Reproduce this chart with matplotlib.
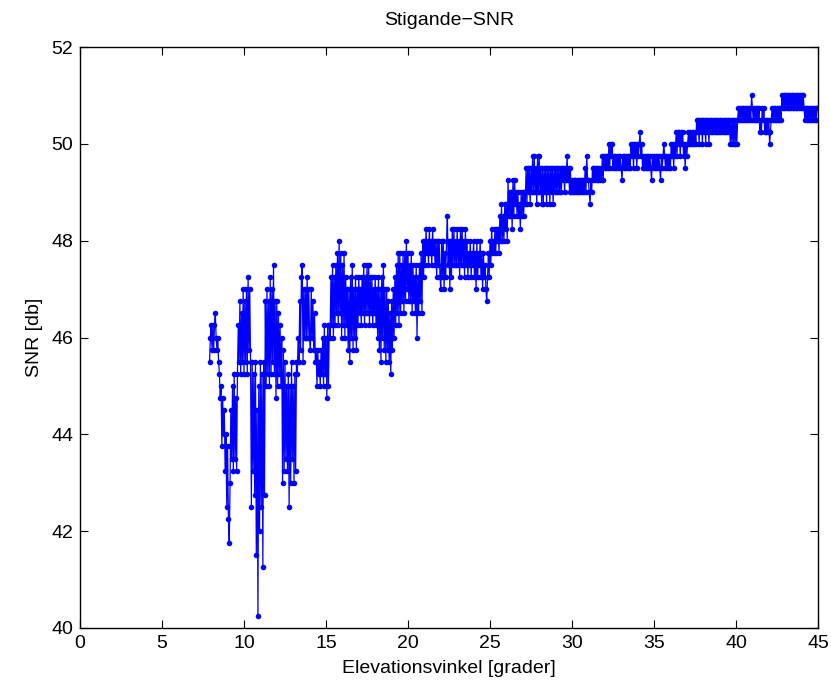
import matplotlib
matplotlib.use("Agg")
import matplotlib.pyplot as plt

# elevation angle [deg] of each sample
elevation = [
    7.9, 7.95,
    8.0, 8.05, 8.1, 8.15, 8.2, 8.25, 8.3, 8.35, 8.4, 8.45, 8.5, 8.55, 8.6, 8.65, 8.7, 8.75, 8.8, 8.85, 8.9, 8.95,
    9.0, 9.05, 9.1, 9.15, 9.2, 9.25, 9.3, 9.35, 9.4, 9.45, 9.5, 9.55, 9.6, 9.65, 9.7, 9.75, 9.8, 9.85, 9.9, 9.95,
    10.0, 10.05, 10.1, 10.15, 10.2, 10.25, 10.3, 10.35, 10.4, 10.45, 10.5, 10.55, 10.6, 10.65, 10.7, 10.75, 10.8, 10.85, 10.9, 10.95,
    11.0, 11.05, 11.1, 11.15, 11.2, 11.25, 11.3, 11.35, 11.4, 11.45, 11.5, 11.55, 11.6, 11.65, 11.7, 11.75, 11.8, 11.85, 11.9, 11.95,
    12.0, 12.05, 12.1, 12.15, 12.2, 12.25, 12.3, 12.35, 12.4, 12.45, 12.5, 12.55, 12.6, 12.65, 12.7, 12.75, 12.8, 12.85, 12.9, 12.95,
    13.0, 13.05, 13.1, 13.15, 13.2, 13.25, 13.3, 13.35, 13.4, 13.45, 13.5, 13.55, 13.6, 13.65, 13.7, 13.75, 13.8, 13.85, 13.9, 13.95,
    14.0, 14.05, 14.1, 14.15, 14.2, 14.25, 14.3, 14.35, 14.4, 14.45, 14.5, 14.55, 14.6, 14.65, 14.7, 14.75, 14.8, 14.85, 14.9, 14.95,
    15.0, 15.05, 15.1, 15.15, 15.2, 15.25, 15.3, 15.35, 15.4, 15.45, 15.5, 15.55, 15.6, 15.65, 15.7, 15.75, 15.8, 15.85, 15.9, 15.95,
    16.0, 16.05, 16.1, 16.15, 16.2, 16.25, 16.3, 16.35, 16.4, 16.45, 16.5, 16.55, 16.6, 16.65, 16.7, 16.75, 16.8, 16.85, 16.9, 16.95,
    17.0, 17.05, 17.1, 17.15, 17.2, 17.25, 17.3, 17.35, 17.4, 17.45, 17.5, 17.55, 17.6, 17.65, 17.7, 17.75, 17.8, 17.85, 17.9, 17.95,
    18.0, 18.05, 18.1, 18.15, 18.2, 18.25, 18.3, 18.35, 18.4, 18.45, 18.5, 18.55, 18.6, 18.65, 18.7, 18.75, 18.8, 18.85, 18.9, 18.95,
    19.0, 19.05, 19.1, 19.15, 19.2, 19.25, 19.3, 19.35, 19.4, 19.45, 19.5, 19.55, 19.6, 19.65, 19.7, 19.75, 19.8, 19.85, 19.9, 19.95,
    20.0, 20.05, 20.1, 20.15, 20.2, 20.25, 20.3, 20.35, 20.4, 20.45, 20.5, 20.55, 20.6, 20.65, 20.7, 20.75, 20.8, 20.85, 20.9, 20.95,
    21.0, 21.05, 21.1, 21.15, 21.2, 21.25, 21.3, 21.35, 21.4, 21.45, 21.5, 21.55, 21.6, 21.65, 21.7, 21.75, 21.8, 21.85, 21.9, 21.95,
    22.0, 22.05, 22.1, 22.15, 22.2, 22.25, 22.3, 22.35, 22.4, 22.45, 22.5, 22.55, 22.6, 22.65, 22.7, 22.75, 22.8, 22.85, 22.9, 22.95,
    23.0, 23.05, 23.1, 23.15, 23.2, 23.25, 23.3, 23.35, 23.4, 23.45, 23.5, 23.55, 23.6, 23.65, 23.7, 23.75, 23.8, 23.85, 23.9, 23.95,
    24.0, 24.05, 24.1, 24.15, 24.2, 24.25, 24.3, 24.35, 24.4, 24.45, 24.5, 24.55, 24.6, 24.65, 24.7, 24.75, 24.8, 24.85, 24.9, 24.95,
    25.0, 25.05, 25.1, 25.15, 25.2, 25.25, 25.3, 25.35, 25.4, 25.45, 25.5, 25.55, 25.6, 25.65, 25.7, 25.75, 25.8, 25.85, 25.9, 25.95,
    26.0, 26.05, 26.1, 26.15, 26.2, 26.25, 26.3, 26.35, 26.4, 26.45, 26.5, 26.55, 26.6, 26.65, 26.7, 26.75, 26.8, 26.85, 26.9, 26.95,
    27.0, 27.05, 27.1, 27.15, 27.2, 27.25, 27.3, 27.35, 27.4, 27.45, 27.5, 27.55, 27.6, 27.65, 27.7, 27.75, 27.8, 27.85, 27.9, 27.95,
    28.0, 28.05, 28.1, 28.15, 28.2, 28.25, 28.3, 28.35, 28.4, 28.45, 28.5, 28.55, 28.6, 28.65, 28.7, 28.75, 28.8, 28.85, 28.9, 28.95,
    29.0, 29.05, 29.1, 29.15, 29.2, 29.25, 29.3, 29.35, 29.4, 29.45, 29.5, 29.55, 29.6, 29.65, 29.7, 29.75, 29.8, 29.85, 29.9, 29.95,
    30.0, 30.05, 30.1, 30.15, 30.2, 30.25, 30.3, 30.35, 30.4, 30.45, 30.5, 30.55, 30.6, 30.65, 30.7, 30.75, 30.8, 30.85, 30.9, 30.95,
    31.0, 31.05, 31.1, 31.15, 31.2, 31.25, 31.3, 31.35, 31.4, 31.45, 31.5, 31.55, 31.6, 31.65, 31.7, 31.75, 31.8, 31.85, 31.9, 31.95,
    32.0, 32.05, 32.1, 32.15, 32.2, 32.25, 32.3, 32.35, 32.4, 32.45, 32.5, 32.55, 32.6, 32.65, 32.7, 32.75, 32.8, 32.85, 32.9, 32.95,
    33.0, 33.05, 33.1, 33.15, 33.2, 33.25, 33.3, 33.35, 33.4, 33.45, 33.5, 33.55, 33.6, 33.65, 33.7, 33.75, 33.8, 33.85, 33.9, 33.95,
    34.0, 34.05, 34.1, 34.15, 34.2, 34.25, 34.3, 34.35, 34.4, 34.45, 34.5, 34.55, 34.6, 34.65, 34.7, 34.75, 34.8, 34.85, 34.9, 34.95,
    35.0, 35.05, 35.1, 35.15, 35.2, 35.25, 35.3, 35.35, 35.4, 35.45, 35.5, 35.55, 35.6, 35.65, 35.7, 35.75, 35.8, 35.85, 35.9, 35.95,
    36.0, 36.05, 36.1, 36.15, 36.2, 36.25, 36.3, 36.35, 36.4, 36.45, 36.5, 36.55, 36.6, 36.65, 36.7, 36.75, 36.8, 36.85, 36.9, 36.95,
    37.0, 37.05, 37.1, 37.15, 37.2, 37.25, 37.3, 37.35, 37.4, 37.45, 37.5, 37.55, 37.6, 37.65, 37.7, 37.75, 37.8, 37.85, 37.9, 37.95,
    38.0, 38.05, 38.1, 38.15, 38.2, 38.25, 38.3, 38.35, 38.4, 38.45, 38.5, 38.55, 38.6, 38.65, 38.7, 38.75, 38.8, 38.85, 38.9, 38.95,
    39.0, 39.05, 39.1, 39.15, 39.2, 39.25, 39.3, 39.35, 39.4, 39.45, 39.5, 39.55, 39.6, 39.65, 39.7, 39.75, 39.8, 39.85, 39.9, 39.95,
    40.0, 40.05, 40.1, 40.15, 40.2, 40.25, 40.3, 40.35, 40.4, 40.45, 40.5, 40.55, 40.6, 40.65, 40.7, 40.75, 40.8, 40.85, 40.9, 40.95,
    41.0, 41.05, 41.1, 41.15, 41.2, 41.25, 41.3, 41.35, 41.4, 41.45, 41.5, 41.55, 41.6, 41.65, 41.7, 41.75, 41.8, 41.85, 41.9, 41.95,
    42.0, 42.05, 42.1, 42.15, 42.2, 42.25, 42.3, 42.35, 42.4, 42.45, 42.5, 42.55, 42.6, 42.65, 42.7, 42.75, 42.8, 42.85, 42.9, 42.95,
    43.0, 43.05, 43.1, 43.15, 43.2, 43.25, 43.3, 43.35, 43.4, 43.45, 43.5, 43.55, 43.6, 43.65, 43.7, 43.75, 43.8, 43.85, 43.9, 43.95,
    44.0, 44.05, 44.1, 44.15, 44.2, 44.25, 44.3, 44.35, 44.4, 44.45, 44.5, 44.55, 44.6, 44.65, 44.7, 44.75, 44.8, 44.85, 44.9, 44.95,
    45.0,
]

# SNR [dB], quantised in 0.25 dB steps
snr = [
    45.5, 46.0,
    46.25, 45.75, 46.25, 45.75, 46.25, 46.5, 46.0, 45.75, 46.0, 45.5, 45.25, 44.75, 45.0, 43.75, 44.75, 44.0, 44.5, 43.25, 44.0, 42.5,
    43.75, 42.25, 41.75, 43.0, 44.5, 43.5, 45.0, 43.25, 45.25, 43.5, 44.75, 43.25, 45.25, 46.25, 45.5, 46.75, 45.25, 46.5, 45.5, 47.0,
    45.25, 46.75, 45.5, 47.0, 45.25, 47.25, 45.75, 47.0, 45.5, 42.5, 45.5, 43.25, 45.25, 42.75, 45.5, 41.5, 44.5, 40.25, 45.0, 42.0,
    45.5, 42.5, 45.25, 41.25, 45.5, 42.75, 46.75, 45.0, 47.0, 45.25, 46.75, 45.0, 47.25, 45.25, 47.0, 45.5, 47.5, 45.25, 46.75, 44.75,
    46.75, 45.0, 46.5, 45.25, 46.25, 45.0, 46.0, 43.0, 45.75, 43.25, 45.5, 43.5, 45.0, 43.25, 45.25, 42.5, 45.0, 43.0, 45.5, 43.5,
    45.0, 43.0, 45.25, 43.25, 45.5, 45.25, 46.0, 45.5, 46.75, 45.75, 47.25, 47.5, 45.5, 47.0, 46.0, 47.0, 46.0, 47.25, 46.0, 47.0,
    46.0, 45.75, 47.0, 46.0, 46.75, 45.75, 46.5, 45.5, 45.75, 45.0, 45.75, 45.25, 45.5, 45.0, 45.75, 45.25, 46.0, 45.0, 46.25, 45.25,
    46.0, 44.75, 46.25, 45.0, 46.25, 46.0, 47.25, 46.25, 47.5, 46.0, 47.25, 46.25, 47.5, 46.5, 47.75, 46.25, 48.0, 46.5, 47.75, 46.0,
    47.5, 46.25, 47.75, 46.0, 47.25, 46.25, 47.0, 45.75, 47.0, 45.5, 47.25, 46.0, 47.5, 45.75, 47.0, 46.0, 47.25, 45.75, 47.0, 46.25,
    47.25, 46.5, 47.0, 46.25, 47.25, 46.5, 47.5, 46.25, 47.25, 46.5, 47.5, 46.5, 47.5, 46.25, 47.25, 46.5, 47.25, 46.25, 47.0, 46.5,
    47.25, 46.25, 47.0, 46.0, 47.25, 45.75, 47.0, 45.5, 47.25, 46.0, 47.5, 45.75, 47.0, 45.5, 47.0, 45.75, 46.75, 45.5, 46.5, 45.25,
    46.75, 45.75, 47.0, 46.0, 47.25, 46.25, 47.5, 46.5, 47.75, 46.25, 47.75, 46.5, 47.5, 46.75, 47.75, 46.5, 47.75, 46.75, 48.0, 47.0,
    47.75, 46.75, 47.5, 46.75, 47.75, 46.5, 47.5, 46.75, 47.25, 46.5, 47.5, 46.0, 47.25, 46.5, 47.5, 46.75, 47.75, 46.5, 48.0, 47.25,
    48.0, 47.5, 48.25, 47.75, 48.0, 47.5, 48.25, 47.75, 48.0, 47.5, 48.25, 47.75, 48.0, 47.5, 48.0, 47.25, 48.0, 47.5, 48.0, 47.25,
    47.0, 48.0, 47.25, 48.0, 47.0, 47.75, 47.25, 48.0, 48.5, 47.5, 48.0, 47.0, 48.0, 47.25, 48.25, 47.5, 48.25, 47.5, 48.0, 47.5,
    48.25, 47.5, 48.0, 47.25, 48.25, 47.5, 48.25, 47.5, 48.0, 47.25, 48.25, 47.5, 48.0, 47.25, 47.75, 47.5, 48.0, 47.25, 47.75, 47.5,
    48.0, 47.25, 47.75, 47.0, 48.0, 47.25, 47.75, 47.5, 48.0, 47.25, 47.75, 47.0, 47.75, 47.25, 47.5, 47.0, 46.75, 47.25, 47.75, 47.25,
    48.0, 47.5, 48.25, 47.75, 48.0, 47.75, 48.25, 47.75, 48.25, 48.0, 48.25, 47.75, 48.5, 48.0, 48.75, 48.0, 48.5, 48.0, 48.75, 48.25,
    48.75, 48.0, 49.25, 48.5, 49.0, 48.5, 49.0, 48.25, 49.25, 48.5, 49.25, 48.75, 49.0, 48.5, 49.0, 48.5, 48.75, 48.25, 49.0, 48.5,
    49.0, 48.5, 49.0, 48.75, 49.5, 48.75, 49.5, 49.0, 49.5, 48.75, 49.5, 49.0, 49.75, 49.0, 49.75, 49.0, 49.5, 48.75, 49.75, 49.0,
    49.75, 49.0, 49.5, 48.75, 49.5, 48.75, 49.5, 49.0, 49.5, 48.75, 49.5, 49.0, 49.5, 48.75, 49.5, 49.0, 49.5, 48.75, 49.5, 49.0,
    49.5, 49.0, 49.5, 49.0, 49.5, 49.0, 49.5, 49.0, 49.5, 49.25, 49.5, 49.0, 49.5, 49.25, 49.75, 49.25, 49.5, 49.0, 49.5, 49.0,
    49.25, 49.0, 49.25, 49.0, 49.25, 49.0, 49.25, 49.0, 49.25, 49.0, 49.25, 49.0, 49.25, 49.0, 49.25, 49.0, 49.5, 49.0, 49.75, 49.25,
    49.25, 49.0, 48.75, 49.25, 49.0, 49.5, 49.25, 49.5, 49.25, 49.5, 49.25, 49.5, 49.25, 49.5, 49.25, 49.5, 49.25, 49.75, 49.25, 49.75,
    49.5, 49.75, 49.5, 49.75, 49.5, 50.0, 49.5, 50.0, 49.75, 50.0, 49.5, 49.75, 49.5, 49.75, 49.5, 49.75, 49.5, 49.75, 49.5, 49.75,
    49.5, 49.25, 49.75, 49.5, 49.75, 49.5, 49.75, 49.5, 49.75, 49.5, 49.75, 49.5, 50.0, 49.75, 50.0, 49.5, 50.0, 49.75, 50.0, 49.5,
    50.0, 49.75, 50.0, 50.25, 49.75, 50.0, 49.5, 49.75, 49.5, 49.75, 49.5, 49.75, 49.5, 49.75, 49.5, 49.75, 49.5, 49.25, 49.75, 49.5,
    49.75, 49.5, 49.75, 49.5, 49.75, 49.5, 49.75, 49.5, 49.25, 49.75, 49.5, 49.75, 50.0, 49.75, 49.5, 49.75, 49.5, 49.75, 49.5, 49.75,
    49.5, 50.0, 49.75, 50.0, 49.5, 50.0, 49.75, 50.25, 49.75, 50.25, 50.0, 50.25, 49.75, 50.25, 50.0, 50.25, 49.75, 50.0, 49.5, 50.0,
    49.75, 50.0, 50.25, 50.0, 50.25, 50.0, 50.25, 50.0, 50.25, 50.0, 50.25, 50.0, 50.5, 50.25, 50.5, 50.0, 50.5, 50.25, 50.5, 50.0,
    50.5, 50.25, 50.5, 50.0, 50.5, 50.25, 50.5, 50.0, 50.5, 50.25, 50.5, 50.25, 50.5, 50.25, 50.5, 50.25, 50.5, 50.25, 50.5, 50.25,
    50.5, 50.25, 50.5, 50.25, 50.5, 50.25, 50.5, 50.25, 50.5, 50.25, 50.5, 50.25, 50.5, 50.0, 50.5, 50.0, 50.5, 50.0, 50.5, 50.0,
    50.5, 50.0, 50.5, 50.75, 50.5, 50.75, 50.5, 50.75, 50.5, 50.75, 50.5, 50.75, 50.5, 50.75, 50.5, 50.75, 50.5, 50.75, 50.5, 51.0,
    50.75, 50.5, 50.75, 50.5, 50.75, 50.5, 50.75, 50.5, 50.75, 50.25, 50.5, 50.25, 50.75, 50.5, 50.75, 50.25, 50.5, 50.25, 50.5, 50.25,
    50.5, 50.0, 50.25, 50.5, 50.75, 50.5, 50.75, 50.5, 50.75, 50.5, 50.75, 50.5, 50.75, 50.5, 50.75, 50.5, 51.0, 50.75, 51.0, 50.75,
    51.0, 50.75, 51.0, 50.75, 51.0, 50.75, 51.0, 50.75, 51.0, 50.75, 51.0, 50.75, 51.0, 50.75, 51.0, 50.75, 51.0, 50.75, 51.0, 50.75,
    51.0, 50.75, 51.0, 50.75, 50.5, 50.75, 50.5, 50.75, 50.5, 50.75, 50.5, 50.75, 50.5, 50.75, 50.5, 50.75, 50.5, 50.75, 50.5, 50.75,
    50.75,
]

x_ticks = [0, 5, 10, 15, 20, 25, 30, 35, 40, 45]
y_ticks = [40, 42, 44, 46, 48, 50, 52]

plt.rcParams['font.family'] = ['Liberation Sans', 'DejaVu Sans']

fig = plt.figure(figsize=(8.31, 6.89), dpi=100)
ax = fig.add_axes([80 / 831, 1 - 628 / 689, 738 / 831, 581 / 689])

ax.plot(elevation, snr, color='#0000FF', linewidth=0.9, marker='o',
        markersize=4, markeredgewidth=0)

ax.set_xlim(0, 45)
ax.set_ylim(40, 52)
ax.set_xticks(x_ticks)
ax.set_yticks(y_ticks)
ax.tick_params(direction='in', top=True, right=True, length=6, width=0.8,
               labelsize=14, pad=5)
for s in ax.spines.values():
    s.set_linewidth(1.0)

ax.set_xlabel('Elevationsvinkel [grader]', fontsize=14, labelpad=6)
ax.set_ylabel('SNR [db]', fontsize=14, labelpad=6)
ax.set_title('Stigande\u2212SNR', fontsize=14, pad=16)

fig.savefig('out.png', dpi=100)
